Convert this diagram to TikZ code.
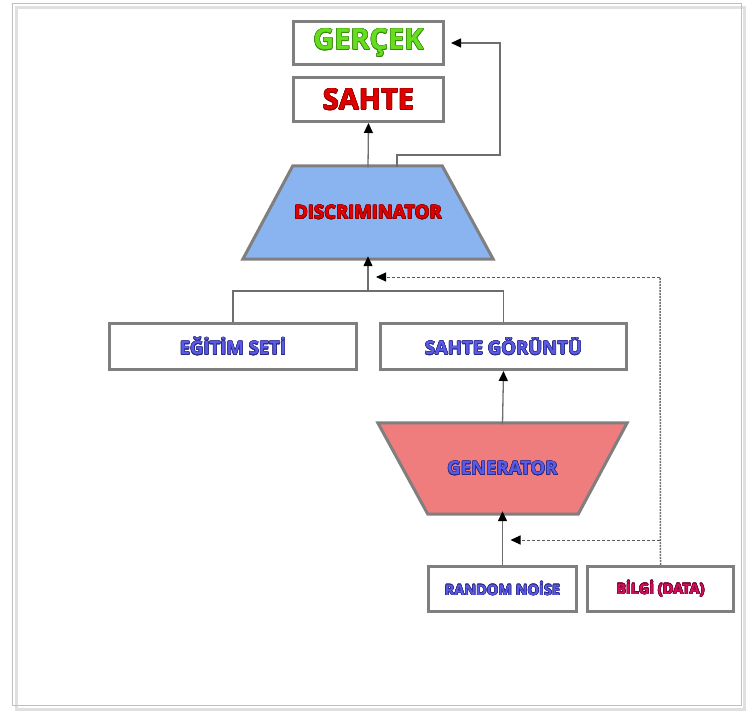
\documentclass[tikz,border=0pt]{standalone}
\usepackage{fontspec}
\setmainfont{Open Sans}
\usepackage{contour}
\contourlength{0.5pt}
\usetikzlibrary{arrows.meta}
\definecolor{bordergray}{HTML}{7F7F7F}
\definecolor{linegray}{HTML}{6E6E6E}
\definecolor{txtgreen}{HTML}{66DD1E}
\definecolor{olgreen}{HTML}{3A8A10}
\definecolor{txtred}{HTML}{E00000}
\definecolor{olred}{HTML}{8A0000}
\definecolor{txtblue}{HTML}{5A5AE6}
\definecolor{olblue}{HTML}{2A2A80}
\definecolor{txtcrimson}{HTML}{D0105A}
\definecolor{olcrimson}{HTML}{7A0030}
\definecolor{discfill}{HTML}{8AB4F0}
\definecolor{genfill}{HTML}{F07D7D}
\begin{document}
\begin{tikzpicture}[x=1pt,y=-1pt,
  boxstyle/.style={draw=bordergray,line width=3pt,fill=white,rectangle,inner sep=0pt,font=\bfseries},
  trapframe/.style={rectangle,inner sep=0pt,font=\bfseries},
  trapdraw/.style={draw=bordergray,line width=3pt,line join=miter},
  tipstyle/.style={-{Triangle[length=10pt,width=9pt,color=black]}},
  conn/.style={draw=linegray,line width=1.3pt,tipstyle},
  plain/.style={draw=linegray,line width=1.3pt},
  dashconn/.style={draw=black!65,line width=1pt,dash pattern=on 3pt off 2pt,tipstyle},
  dotline/.style={draw=black!55,line width=1.5pt,dash pattern=on 1.8pt off 1.2pt}]
\useasboundingbox (0,0) rectangle (746,711);
% outer frame with shadow
\draw[black!12,line width=3pt] (16,8) rectangle (744,709);
\draw[black!25,line width=1pt] (12,4) rectangle (741,705);

\node[boxstyle,minimum width=150pt,minimum height=43pt] (gercek) at (368.5,43)
  {\fontsize{29}{30}\selectfont\color{txtgreen}\contour{olgreen}{GERÇEK}};
\node[boxstyle,minimum width=150pt,minimum height=44pt] (sahte) at (368.5,99.5)
  {\fontsize{29}{30}\selectfont\color{txtred}\contour{olred}{SAHTE}};

% discriminator (trapezoid drawn from the node's frame)
\node[trapframe,minimum width=250pt,minimum height=93pt] (disc) at (368,212.5) {};
\draw[trapdraw,fill=discfill] (disc.south west) -- ([xshift=50pt]disc.north west)
  -- ([xshift=-51pt]disc.north east) -- (disc.south east) -- cycle;
\node[font=\bfseries] at (disc.center)
  {\fontsize{18.5}{20}\selectfont\color{txtred}\contour{olred}{DISCRIMINATOR}};

\node[boxstyle,minimum width=247pt,minimum height=46pt] (egitim) at (233,346.5)
  {\fontsize{18.5}{20}\selectfont\color{txtblue}\contour{olblue}{EĞİTİM SETİ}};
\node[boxstyle,minimum width=246pt,minimum height=46pt] (sahtegor) at (503.5,346.5)
  {\fontsize{18.5}{20}\selectfont\color{txtblue}\contour{olblue}{SAHTE GÖRÜNTÜ}};

% generator
\node[trapframe,minimum width=249pt,minimum height=91pt] (gen) at (502.5,468.5) {};
\draw[trapdraw,fill=genfill] (gen.north west) -- (gen.north east)
  -- ([xshift=-49pt]gen.south east) -- ([xshift=50pt]gen.south west) -- cycle;
\node[font=\bfseries] at (gen.center)
  {\fontsize{18.5}{20}\selectfont\color{txtblue}\contour{olblue}{GENERATOR}};

\node[boxstyle,minimum width=148pt,minimum height=45pt] (noise) at (502.5,589)
  {\fontsize{14.5}{16}\selectfont\color{txtblue}\contour{olblue}{RANDOM NOİSE}};
\node[boxstyle,minimum width=146pt,minimum height=45pt] (bilgi) at (660.5,589)
  {\fontsize{14.5}{16}\selectfont\color{txtcrimson}\contour{olcrimson}{BİLGİ (DATA)}};

\coordinate (junc) at (368,291);
\coordinate (rturn) at (500,155);
\coordinate (dupper) at (660,277);
\coordinate (dlower) at (660,540);

% connectors
\draw[conn] ([yshift=-1.5pt]disc.north) -- (sahte.south);
\draw[conn,shorten >=6pt] ([xshift=29pt,yshift=-1.5pt]disc.north) |- (rturn) |- (gercek.east);
\draw[plain] (egitim.north) |- (junc) -| (sahtegor.north);
\draw[conn] (junc) -- ([yshift=3pt]disc.south);
\draw[conn] ([yshift=-1.5pt]gen.north) -- (sahtegor.south);
\draw[conn] (noise.north) -- ([yshift=3pt]gen.south);
\draw[dotline] (bilgi.north) -- (dupper);
\draw[dashconn] (dupper) -- ([xshift=8pt]junc |- dupper);
\draw[dashconn] (dlower) -- ([xshift=8pt]noise.north |- dlower);
\end{tikzpicture}
\end{document}
